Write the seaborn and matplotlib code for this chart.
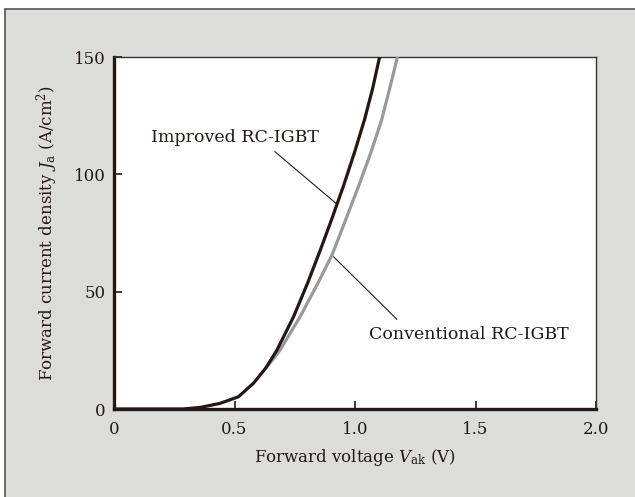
import numpy as np
import pandas as pd
import seaborn as sns
import matplotlib.pyplot as plt
from matplotlib.patches import Rectangle
from matplotlib.lines import Line2D

# values (V, A/cm^2)
improved_v = [0.0, 0.287, 0.36, 0.44, 0.516, 0.579, 0.63, 0.676, 0.745, 0.803, 0.856, 0.902, 0.952, 1.000, 1.040, 1.073, 1.102]
improved_j = [0.0, 0.0, 0.7, 2.4, 5.2, 11.0, 17.5, 25.1, 39.3, 53.6, 67.7, 80.5, 95.0, 110.0, 123.5, 136.5, 150.0]
conventional_v = [0.63, 0.66, 0.689, 0.772, 0.846, 0.904, 0.959, 1.015, 1.065, 1.110, 1.145, 1.176]
conventional_j = [17.5, 21.2, 25.1, 39.3, 53.6, 65.5, 80.0, 95.0, 109.0, 123.0, 137.0, 150.0]
x_ticks = [0, 0.5, 1.0, 1.5, 2.0]
x_ticklabels = ["0", "0.5", "1.0", "1.5", "2.0"]
y_ticks = [0, 50, 100, 150]

sns.set_style("ticks")
plt.rcParams["font.family"] = ["DejaVu Serif"]
plt.rcParams["mathtext.fontset"] = "dejavuserif"

W, H = 635, 497
fig = plt.figure(figsize=(W / 100, H / 100), dpi=100)
fig.patch.set_facecolor("white")

# grey panel with dark border on top/left
fig.patches.append(Rectangle((5 / W, 0), 1, 1 - 9 / H, transform=fig.transFigure,
                             facecolor="#dcdddb", edgecolor="none", zorder=-2))
fig.lines.append(Line2D([5 / W, 5 / W], [0, 1 - 9 / H], transform=fig.transFigure, color="#555555", lw=1.2, zorder=-1))
fig.lines.append(Line2D([5 / W, 1], [1 - 9 / H, 1 - 9 / H], transform=fig.transFigure, color="#555555", lw=1.2, zorder=-1))

ax = fig.add_axes([114 / W, 1 - 409 / H, (596 - 114) / W, (409 - 57) / H])
ax.set_zorder(1)
ax.set_facecolor("white")

df_imp = pd.DataFrame({"V": improved_v, "J": improved_j})
df_con = pd.DataFrame({"V": conventional_v, "J": conventional_j})
sns.lineplot(data=df_con, x="V", y="J", ax=ax, color="#999999", lw=2.3, sort=False, zorder=3)
sns.lineplot(data=df_imp, x="V", y="J", ax=ax, color="#231815", lw=2.3, sort=False, zorder=4)

ax.set_xlim(0, 2.0)
ax.set_ylim(0, 150)
ax.set_xticks(x_ticks)
ax.set_xticklabels(x_ticklabels)
ax.set_yticks(y_ticks)
ax.tick_params(direction="in", length=6, width=1.2, color="#231815", labelsize=12, labelcolor="#231815")
ax.tick_params(axis="x", pad=9)
ax.tick_params(axis="y", pad=6)

for side in ["left", "bottom"]:
    ax.spines[side].set_linewidth(2.4)
    ax.spines[side].set_color("#231815")
for side in ["top", "right"]:
    ax.spines[side].set_visible(True)
    ax.spines[side].set_linewidth(1.0)
    ax.spines[side].set_color("#333333")

ax.set_xlabel(r"Forward voltage $V_{\mathrm{ak}}$ (V)", fontsize=12, color="#231815", labelpad=6)
ax.set_ylabel(r"Forward current density $J_{\mathrm{a}}$ (A/cm$^{2}$)", fontsize=12, color="#231815", labelpad=10)

# annotations with leader lines
ax.annotate("Improved RC-IGBT", xy=(0.925, 87.3), xytext=(0.50, 115.5),
            fontsize=12.5, color="#231815", ha="center", va="center",
            arrowprops=dict(arrowstyle="-", color="#231815", lw=0.8, shrinkA=0, shrinkB=0,
                            relpos=(0.74, -0.3)))
ax.annotate("Conventional RC-IGBT", xy=(0.911, 64.9), xytext=(1.472, 31.7),
            fontsize=12.5, color="#231815", ha="center", va="center",
            arrowprops=dict(arrowstyle="-", color="#231815", lw=0.8, shrinkA=0, shrinkB=0,
                            relpos=(0.14, 1.4)))

fig.savefig("out.png", dpi=100)
